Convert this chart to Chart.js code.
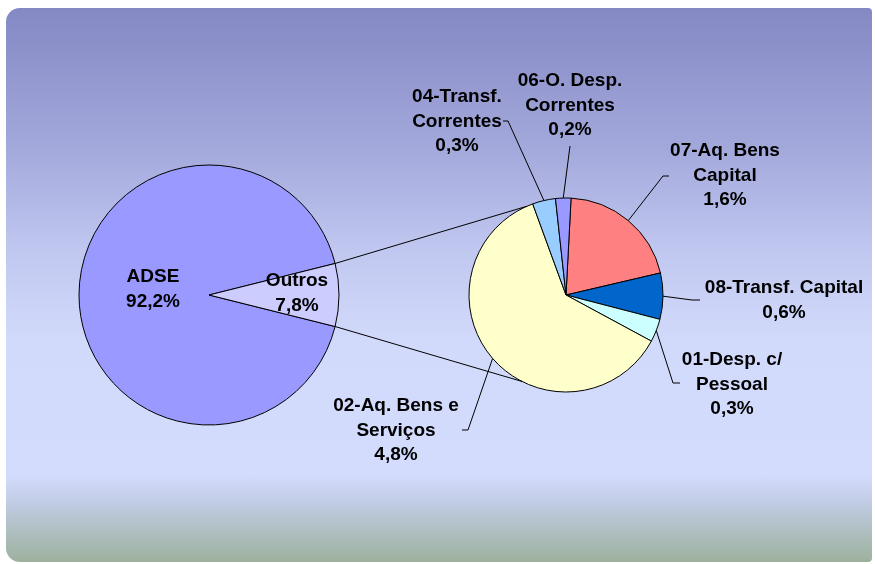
<!DOCTYPE html>
<html>
<head>
<meta charset="UTF-8">
<title>ADSE - estrutura da despesa</title>
<script src="https://cdn.jsdelivr.net/npm/chart.js@4.4.1/dist/chart.umd.min.js"></script>
<style>
  body { margin: 0; background: #ffffff; }
  #wrap { position: relative; width: 875px; height: 564px; overflow: hidden; }
  #bg {
    position: absolute; left: 6px; top: 8px; width: 866px; height: 554px;
    border-radius: 14px 4px 4px 14px;
    background: linear-gradient(to bottom, #8488c4 0%, #a3a8db 25%, #c2c9f1 45%, #d2dafb 60%, #d4dcfd 84%, #c2cde6 89%, #b0c0c4 94%, #9db19e 100%);
  }
  canvas { position: absolute; left: 0; top: 0; }
</style>
</head>
<body>
<div id="wrap">
  <div id="bg"></div>
  <canvas id="bigPie" width="875" height="564"></canvas>
  <canvas id="subPie" width="875" height="564"></canvas>
</div>
<script>
// main pie
var bigLabels = ['ADSE', 'Outros'];
var bigValues = [92.2, 7.8];
// breakdown of "Outros"
var subLabels = [['07-Aq. Bens', 'Capital'], ['08-Transf. Capital'], ['01-Desp. c/', 'Pessoal'],
                 ['02-Aq. Bens e', 'Serviços'], ['04-Transf.', 'Correntes'], ['06-O. Desp.', 'Correntes']];
var subValues = [1.6, 0.6, 0.3, 4.8, 0.3, 0.2];

var FONT = 'bold 19px "Liberation Sans", Arial, sans-serif';
var LINE_H = 24.5;

function pct(v) {
  return v.toFixed(1).replace('.', ',') + '%';
}

function drawBlock(ctx, lines, x, y) {
  lines.forEach(function(t, k) {
    ctx.fillText(t, x, y + k * LINE_H);
  });
}

// label positions (centre x, first line y)
var bigTextPos = [[153, 277], [297, 281]];
var subTextPos = [[725, 151], [784, 288], [732, 360], [396, 406], [457, 97], [570, 81]];
// leader line points after the slice point
var subLeader = [
  [[663, 176], [669, 176]],
  [[692, 300], [700, 300]],
  [[673, 383], [680, 383]],
  [[468, 430], [462, 430]],
  [[508, 121], [503, 121]],
  [[570, 146]]
];

var bigLabelPlugin = {
  id: 'bigLabels',
  afterDraw: function(chart) {
    var ctx = chart.ctx;
    ctx.save();
    ctx.font = FONT;
    ctx.fillStyle = '#000';
    ctx.textAlign = 'center';
    ctx.textBaseline = 'middle';
    bigLabels.forEach(function(l, i) {
      drawBlock(ctx, [l, pct(bigValues[i])], bigTextPos[i][0], bigTextPos[i][1]);
    });
    ctx.restore();
  }
};

var subLabelPlugin = {
  id: 'subLabels',
  afterDraw: function(chart) {
    var ctx = chart.ctx;
    var arcs = chart.getDatasetMeta(0).data;
    ctx.save();
    ctx.strokeStyle = '#000';
    ctx.lineWidth = 1;

    // connector lines from the "Outros" slice to the second pie
    var big = bigChart.getDatasetMeta(0).data[1];
    var c = arcs[0];
    var ends = [246 * Math.PI / 180, 117 * Math.PI / 180];
    [big.startAngle, big.endAngle].forEach(function(a, k) {
      ctx.beginPath();
      ctx.moveTo(big.x + big.outerRadius * Math.cos(a), big.y + big.outerRadius * Math.sin(a));
      ctx.lineTo(c.x + c.outerRadius * Math.cos(ends[k]), c.y + c.outerRadius * Math.sin(ends[k]));
      ctx.stroke();
    });

    // leader lines
    arcs.forEach(function(arc, i) {
      var mid = (arc.startAngle + arc.endAngle) / 2;
      ctx.beginPath();
      ctx.moveTo(arc.x + arc.outerRadius * Math.cos(mid), arc.y + arc.outerRadius * Math.sin(mid));
      subLeader[i].forEach(function(p) { ctx.lineTo(p[0], p[1]); });
      ctx.stroke();
    });

    ctx.font = FONT;
    ctx.fillStyle = '#000';
    ctx.textAlign = 'center';
    ctx.textBaseline = 'middle';
    subLabels.forEach(function(l, i) {
      drawBlock(ctx, l.concat([pct(subValues[i])]), subTextPos[i][0], subTextPos[i][1]);
    });
    ctx.restore();
  }
};

var outrosShare = bigValues[1] / (bigValues[0] + bigValues[1]);

var bigChart = new Chart(document.getElementById('bigPie').getContext('2d'), {
  type: 'pie',
  data: {
    labels: bigLabels,
    datasets: [{
      data: bigValues,
      backgroundColor: ['#9999FF', '#CCCCFF'],
      borderColor: '#000',
      borderWidth: 1
    }]
  },
  options: {
    responsive: false,
    animation: false,
    devicePixelRatio: 1,
    radius: 130,
    rotation: 90 + outrosShare * 180,
    layout: { padding: { left: 0, right: 457, top: 26, bottom: 0 } },
    plugins: { legend: { display: false }, tooltip: { enabled: false } },
    events: []
  },
  plugins: [bigLabelPlugin]
});

var subChart = new Chart(document.getElementById('subPie').getContext('2d'), {
  type: 'pie',
  data: {
    labels: subLabels,
    datasets: [{
      data: subValues,
      backgroundColor: ['#FF8080', '#0066CC', '#CCFFFF', '#FFFFCC', '#99CCFF', '#9999FF'],
      borderColor: '#000',
      borderWidth: 1
    }]
  },
  options: {
    responsive: false,
    animation: false,
    devicePixelRatio: 1,
    radius: 97,
    rotation: 3,
    layout: { padding: { left: 257, right: 0, top: 26, bottom: 0 } },
    plugins: { legend: { display: false }, tooltip: { enabled: false } },
    events: []
  },
  plugins: [subLabelPlugin]
});
</script>
</body>
</html>
